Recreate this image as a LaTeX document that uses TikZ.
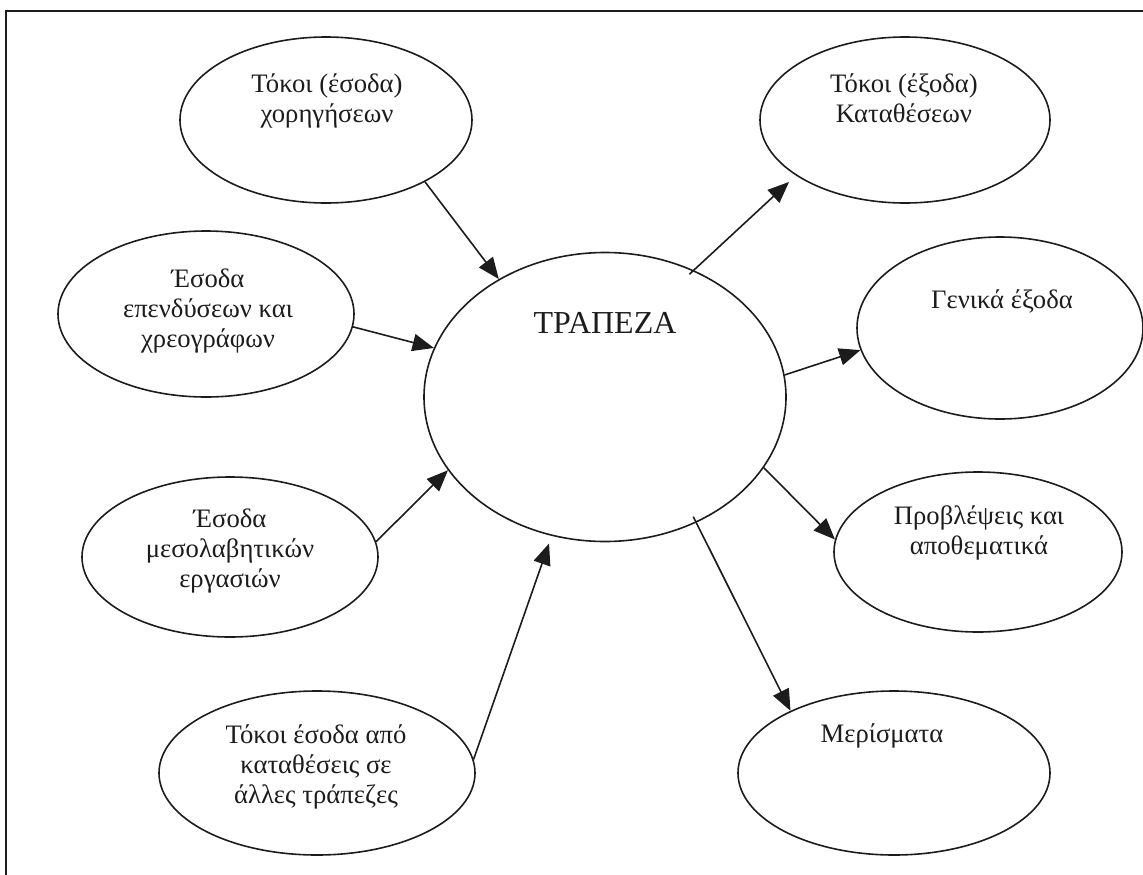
\documentclass[tikz,border=0pt]{standalone}
\usepackage{fontspec}
\setmainfont{Liberation Serif}
\usetikzlibrary{arrows.meta,shapes.geometric}
\definecolor{ink}{RGB}{28,28,28}
\begin{document}
\begin{tikzpicture}[x=0.75pt,y=-0.75pt,
  bubble/.style={draw=ink,line width=1.2pt,ellipse,inner sep=0pt},
  txt/.style={font=\fontsize{20}{22.5}\selectfont,align=center,inner sep=0pt,text=ink},
  arr/.style={draw=ink,line width=1.2pt,-{Triangle[length=16pt,width=13pt]}}]
\useasboundingbox (0,0) rectangle (1143,875);
% frame
\draw[ink,line width=1.2pt] (1143,11) -- (6,11) -- (6,875);
% ellipses
\node[bubble,minimum width=271.5pt,minimum height=216.75pt] (T) at (605,397) {};
\node[bubble,minimum width=219pt,minimum height=124.5pt] (A) at (326,120) {};
\node[bubble,minimum width=222pt,minimum height=124.5pt] (B) at (206,314) {};
\node[bubble,minimum width=222pt,minimum height=120pt] (M) at (230,557) {};
\node[bubble,minimum width=237pt,minimum height=123pt] (E) at (317,773) {};
\node[bubble,minimum width=217.5pt,minimum height=124.5pt] (C) at (905,120) {};
\node[bubble,minimum width=214.5pt,minimum height=136.5pt] (D) at (1000,328) {};
\node[bubble,minimum width=216pt,minimum height=120pt] (P) at (978,552) {};
\node[bubble,minimum width=234pt,minimum height=123pt] (R) at (894,773) {};
% texts
\node[txt,font=\fontsize{24}{28}\selectfont,anchor=base] (tT) at (605,333) {ΤΡΑΠΕΖΑ};
\node[txt] (tA) at (327,101) {\strut Τόκοι (έσοδα)\\\strut χορηγήσεων};
\node[txt] (tB) at (208,311) {\strut Έσοδα\\\strut επενδύσεων και\\\strut χρεογράφων};
\node[txt] (tM) at (230,551) {\strut Έσοδα\\\strut μεσολαβητικών\\\strut εργασιών};
\node[txt] (tE) at (316,767) {\strut Τόκοι έσοδα από\\\strut καταθέσεις σε\\\strut άλλες τράπεζες};
\node[txt] (tC) at (904,101) {\strut Τόκοι (έξοδα)\\\strut Καταθέσεων};
\node[txt] (tD) at (1002,302) {\strut Γενικά έξοδα};
\node[txt] (tP) at (979,533) {\strut Προβλέψεις και\\\strut αποθεματικά};
\node[txt] (tR) at (882,736) {\strut Μερίσματα};
% arrows
\draw[arr] (A.-32.7) -- (T.132.8);
\draw[arr] (B.-5.4) -- (T.164.8);
\draw[arr] (M.6.1) -- (T.205.5);
\draw[arr,shorten >=6pt] (E.5.1) -- (T.-111.7);
\draw[arr,shorten <=-4.5pt,shorten >=7pt] (T.55.8) -- (C.-153.1);
\draw[arr] (T.7.9) -- (D.189.1);
\draw[arr] (T.-24.9) -- (P.175.7);
\draw[arr,shorten <=-5pt] (T.-54.7) -- (R.149.7);
\end{tikzpicture}
\end{document}
